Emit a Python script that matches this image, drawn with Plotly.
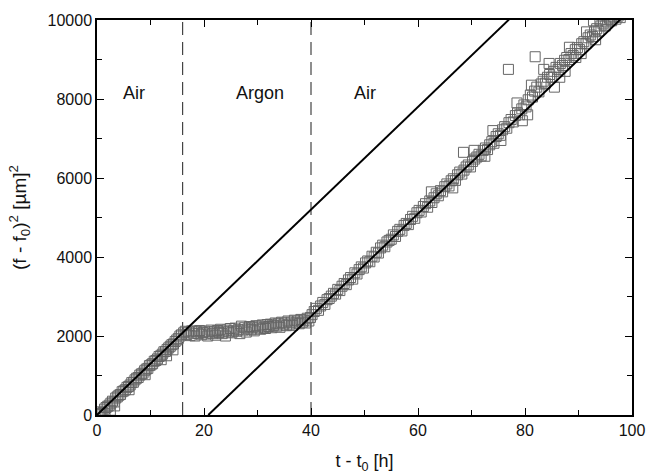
import plotly.graph_objects as go

# ---- data ----
seg_air1_t = [0.2, 0.5, 0.8, 1.1, 1.4, 1.5, 1.7, 2.0, 2.3, 2.5, 2.6, 2.9, 3.2, 3.3, 3.5, 3.8, 4.1, 4.4, 4.7,
              5.0, 5.3, 5.6, 5.9, 6.0, 6.2, 6.5, 6.8, 7.1, 7.4, 7.7, 8.0, 8.3, 8.6, 8.9, 9.0, 9.2, 9.5, 9.8,
              10.1, 10.4, 10.7, 11.0, 11.3, 11.6, 11.9, 12.0, 12.2, 12.5, 12.8, 13.0, 13.1, 13.4, 13.7, 14.0,
              14.2, 14.3, 14.6, 14.9, 15.2, 15.5, 15.8]
seg_air1_y = [10, 40, 80, 60, 150, 30, 190, 220, 250, 120, 300, 350, 330, 230, 430, 460, 500, 520, 590,
              610, 640, 700, 720, 640, 760, 820, 830, 890, 930, 950, 1010, 1040, 1060, 1120, 1020, 1160, 1180, 1250,
              1270, 1300, 1360, 1380, 1420, 1480, 1500, 1400, 1540, 1600, 1610, 1500, 1660, 1700, 1740, 1780,
              1650, 1800, 1860, 1900, 1940, 2000, 2030]

seg_argon_t = [16.2, 16.5, 16.8, 17.1, 17.4, 17.7, 18.0, 18.3, 18.6, 18.9, 19.2, 19.5, 19.8, 20.1, 20.4, 20.7,
               21.0, 21.3, 21.6, 21.9, 22.2, 22.5, 22.8, 23.1, 23.4, 23.7, 24.0, 24.3, 24.6, 24.9, 25.2, 25.5,
               25.8, 26.1, 26.4, 26.7, 27.0, 27.3, 27.6, 27.9, 28.2, 28.5, 28.8, 29.1, 29.4, 29.7, 30.0, 30.3,
               30.6, 30.9, 31.2, 31.5, 31.8, 32.1, 32.4, 32.7, 33.0, 33.3, 33.6, 33.9, 34.2, 34.5, 34.8, 35.1,
               35.4, 35.7, 36.0, 36.3, 36.6, 36.9, 37.2, 37.5, 37.8, 38.1, 38.4, 38.7, 39.0, 39.3, 39.6, 39.9]
seg_argon_y = [2080, 2120, 2040, 2100, 2010, 2130, 2070, 2000, 2110, 2060, 2140, 2030, 2090, 2120, 2050, 2000,
               2100, 2150, 2060, 2110, 2020, 2140, 2090, 2170, 2060, 2120, 2000, 2150, 2100, 2190, 2080, 2130,
               2200, 2120, 2160, 2060, 2250, 2150, 2210, 2100, 2180, 2240, 2160, 2220, 2130, 2260, 2200, 2250,
               2170, 2280, 2220, 2190, 2290, 2240, 2300, 2210, 2270, 2330, 2250, 2310, 2220, 2350, 2280, 2330,
               2260, 2380, 2300, 2350, 2270, 2400, 2330, 2380, 2310, 2420, 2350, 2400, 2330, 2450, 2380, 2470]

seg_air2_t = [40.2, 40.6, 41.0, 41.4, 41.8, 42.2, 42.6, 43.0, 43.4, 43.8, 44.2, 44.6, 45.0, 45.4, 45.8, 46.2,
              46.6, 47.0, 47.4, 47.8, 48.2, 48.6, 49.0, 49.4, 49.8, 50.2, 50.6, 51.0, 51.4, 51.8, 52.2, 52.6,
              53.0, 53.4, 53.8, 54.2, 54.6, 55.0, 55.4, 55.8, 56.2, 56.6, 57.0, 57.4, 57.8, 58.2, 58.6, 59.0,
              59.4, 59.8, 60.2, 60.6, 61.0, 61.4, 61.8, 62.2, 62.5, 62.6, 63.0, 63.4, 63.8, 64.2, 64.6, 65.0, 65.4,
              65.8, 66.2, 66.5, 66.6, 67.0, 67.4, 67.8, 68.2, 68.5, 68.6, 69.0, 69.4, 69.8, 70.2, 70.5, 70.6, 71.0, 71.4,
              71.8, 72.2, 72.5, 72.6, 73.0, 73.4, 73.8, 74.0, 74.2, 74.6, 75.0, 75.4, 75.5, 75.8, 76.2, 76.6, 76.9, 77.0, 77.4,
              77.8, 78.2, 78.5, 78.6, 79.0, 79.4, 79.5, 79.8, 80.2, 80.5, 80.6, 81.0, 81.2, 81.4, 81.8, 81.9, 82.2, 82.6,
              83.0, 83.4, 83.5, 83.8, 84.2, 84.5, 84.6, 85.0, 85.4, 85.5, 85.8, 86.2, 86.5, 86.6, 87.0, 87.4, 87.5,
              87.8, 88.2, 88.3, 88.6, 89.0, 89.4, 89.5, 89.8, 90.2, 90.5, 90.6, 91.0, 91.4, 91.5, 91.8, 92.2,
              92.6, 92.8, 93.0, 93.2, 93.4, 93.8, 94.0, 94.2, 94.6, 95.0, 95.4, 95.5, 95.8, 96.2, 96.6, 97.0,
              97.4, 97.8]
seg_air2_y = [2540, 2620, 2700, 2650, 2760, 2850, 2800, 2920, 2950, 3010, 3080, 3060, 3180, 3150, 3260, 3330,
              3300, 3420, 3480, 3440, 3600, 3570, 3680, 3750, 3720, 3850, 3900, 3880, 4020, 4000, 4120, 4100,
              4230, 4300, 4260, 4380, 4420, 4450, 4560, 4520, 4650, 4700, 4660, 4800, 4850, 4820, 4950, 5030,
              4980, 5120, 5180, 5140, 5280, 5350, 5260, 5420, 5650, 5380, 5500, 5600, 5550, 5680, 5650, 5780, 5850,
              5800, 5930, 5750, 5980, 5940, 6080, 6150, 6100, 6650, 6200, 6280, 6330, 6280, 6420, 6700, 6480, 6530, 6600,
              6560, 6700, 6550, 6760, 6720, 6840, 6920, 7200, 6880, 7050, 7120, 7080, 6950, 7220, 7300, 7260, 8750, 7400, 7480,
              7420, 7580, 7900, 7650, 7600, 7750, 7450, 7850, 7800, 7600, 7980, 8100, 8350, 8050, 8200, 9070, 8300, 8180,
              8380, 8450, 8750, 8400, 8550, 8900, 8620, 8550, 8700, 8300, 8800, 8750, 8550, 8900, 8850, 8980, 8700,
              9050, 9000, 9310, 9150, 9100, 9250, 9050, 9300, 9250, 9150, 9400, 9450, 9400, 9700, 9550, 9620,
              9580, 9980, 9700, 9500, 9780, 9720, 10000, 9850, 9900, 9850, 9950, 10010, 10050, 9980, 10080, 10020,
              10100, 10060]

# linear guide lines (end points)
fit1_t = [0, 77.0]
fit1_y = [0, 10010]
fit2_t = [20.8, 97.8]
fit2_y = [0, 10010]

# gas switch times
switch_t = [16, 40]

# region labels
label_text = ["Air", "Argon", "Air"]
label_t = [7, 30.5, 50]
label_y = [8150, 8150, 8150]

x_ticks = [0, 20, 40, 60, 80, 100]
y_ticks = [0, 2000, 4000, 6000, 8000, 10000]
y_ticktext = ["0", "2000", "4000", "6000", "8000", "10000"]

t_all = seg_air1_t + seg_argon_t + seg_air2_t
y_all = seg_air1_y + seg_argon_y + seg_air2_y

FONT = "Liberation Sans, Arial, sans-serif"

fig = go.Figure()

for xv in switch_t:
    fig.add_shape(type="line", xref="x", yref="paper", x0=xv, x1=xv, y0=0, y1=1,
                  line=dict(color="#444444", width=1.2, dash="13px,7px"), layer="below")

fig.add_trace(go.Scatter(x=t_all, y=y_all, mode="markers",
                         marker=dict(symbol="square-open", size=10, color="#666666",
                                     line=dict(width=1.0, color="#666666")),
                         showlegend=False, hoverinfo="skip"))

fig.add_trace(go.Scatter(x=fit1_t, y=fit1_y, mode="lines",
                         line=dict(color="black", width=2), showlegend=False, hoverinfo="skip"))
fig.add_trace(go.Scatter(x=fit2_t, y=fit2_y, mode="lines",
                         line=dict(color="black", width=2), showlegend=False, hoverinfo="skip"))

for txt, xv, yv in zip(label_text, label_t, label_y):
    fig.add_annotation(x=xv, y=yv, text=txt, showarrow=False,
                       font=dict(family=FONT, size=18, color="#111111"))

axis_common = dict(
    showgrid=False, zeroline=False, showline=True, linecolor="black", linewidth=1.5,
    mirror="allticks", ticks="inside", ticklen=7, tickwidth=1.2, tickcolor="black",
    tickfont=dict(family=FONT, size=16, color="#111111"), automargin=False,
)

fig.update_xaxes(range=[0, 100], tickvals=x_ticks,
                 minor=dict(tickvals=[10, 30, 50, 70, 90], ticks="inside", ticklen=5, tickcolor="black", tickwidth=1.2),
                 title=dict(text="t - t<sub>0</sub> [h]", font=dict(family=FONT, size=18, color="#111111"), standoff=20),
                 **axis_common)
fig.update_yaxes(range=[0, 10000], tickvals=y_ticks, ticktext=y_ticktext,
                 minor=dict(tickvals=[1000, 3000, 5000, 7000, 9000], ticks="inside", ticklen=5, tickcolor="black", tickwidth=1.2),
                 title=dict(text="(f - f<sub>0</sub>)<sup>2</sup> [µm]<sup>2</sup>", font=dict(family=FONT, size=19, color="#111111"), standoff=16),
                 **axis_common)

fig.update_layout(width=647, height=474, autosize=False, margin=dict(l=97, r=15, t=20, b=59),
                  plot_bgcolor="white", paper_bgcolor="white")

fig.write_html("out.html",
               config={"displayModeBar": False, "responsive": False},
               post_script="document.body.style.margin='0';document.body.style.overflow='hidden';")
